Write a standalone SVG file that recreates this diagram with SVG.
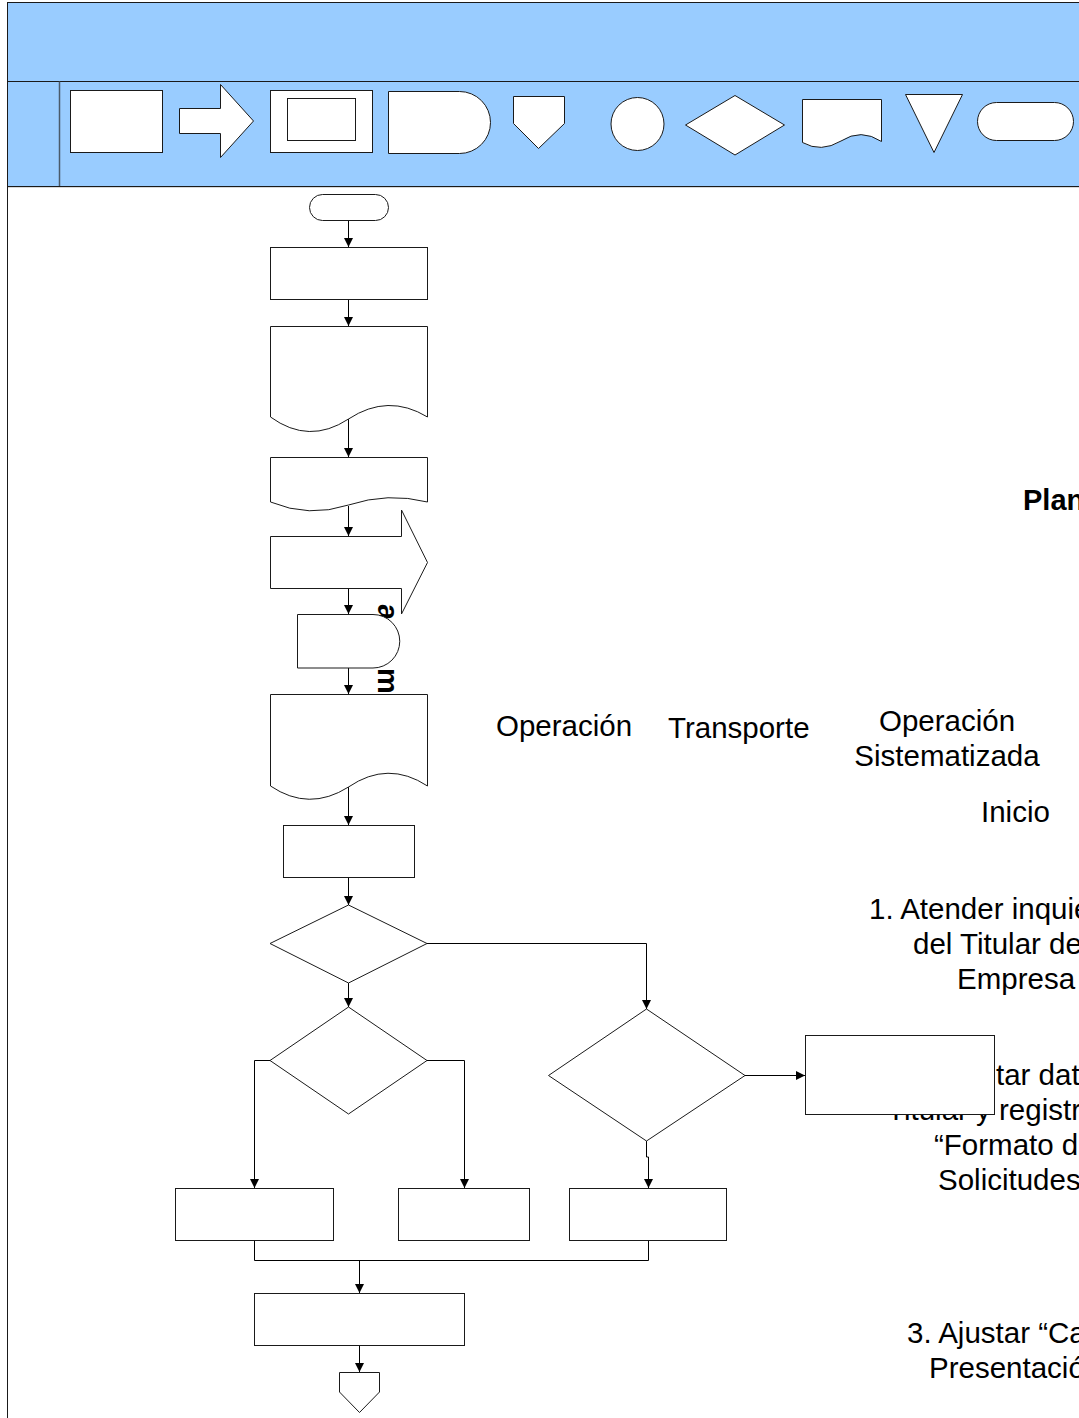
<svg xmlns="http://www.w3.org/2000/svg" width="1079" height="1418" viewBox="0 0 1079 1418">
  <style>
    .shape { fill: #ffffff; stroke: #1a1a1a; stroke-width: 1; }
    .band { fill: #99ccff; }
    .rule { stroke: #1a1a1a; stroke-width: 1; fill: none; }
    .conn { stroke: #000000; stroke-width: 1; fill: none; }
    .lbl { font-family: "Liberation Sans", Arial, sans-serif; font-size: 29.5px; fill: #000000; }
    .ttl { font-family: "Liberation Sans", Arial, sans-serif; font-size: 29px; font-weight: bold; fill: #000000; }
  </style>
  <defs>
    <marker id="arrow" markerUnits="userSpaceOnUse" markerWidth="10" markerHeight="10" refX="9" refY="4.5" orient="auto">
      <path d="M0,0 L9,4.5 L0,9 Z" fill="#000000"/>
    </marker>
  </defs>

  <rect width="1079" height="1418" fill="#ffffff"/>

  <!-- header band with symbol legend -->
  <g id="header">
    <rect class="band" x="7" y="2" width="1072" height="184"/>
    <path class="rule" d="M7.5,2.5 H1079 M7.5,81.5 H1079 M7.5,186.5 H1079"/>
    <path d="M7.5,187.5 H1079" stroke="#d8d8d8" stroke-width="1"/>
    <path d="M59.5,81.5 V186" stroke="#4a5a6a" stroke-width="1.5"/>
  </g>
  <path id="frame" class="rule" d="M7.5,2 V1418"/>

  <g id="legend">
    <g id="legend-operation"><rect class="shape" x="70.5" y="90.5" width="92" height="62"/></g>
    <g id="legend-transport"><path class="shape" d="M179.5,108.5 H220.5 V84.5 L253.5,121 L220.5,157.5 V133.5 H179.5 Z"/></g>
    <g id="legend-systematized">
      <rect class="shape" x="270.5" y="90.5" width="102" height="62"/>
      <rect class="shape" x="287.5" y="98.5" width="68" height="42"/>
    </g>
    <g id="legend-delay"><path class="shape" d="M388.5,91.5 H459.5 A31,31 0 0 1 459.5,153.5 H388.5 Z"/></g>
    <g id="legend-offpage"><path class="shape" d="M513.5,96.5 H564.5 V123.5 L538.5,148.5 L513.5,123.5 Z"/></g>
    <g id="legend-connector"><circle class="shape" cx="637.5" cy="124" r="26.5"/></g>
    <g id="legend-decision"><path class="shape" d="M735,95.5 L784.5,125 L735,155 L685.5,125 Z"/></g>
    <g id="legend-document"><path class="shape" d="M802.5,99.5 H881.5 V141.5 Q861,128 841,141 Q821,153 802.5,142.5 Z"/></g>
    <g id="legend-archive"><path class="shape" d="M905.5,94.5 H962.5 L934,152.5 Z"/></g>
    <g id="legend-terminal"><rect class="shape" x="977.5" y="102.5" width="96" height="38" rx="19" ry="19"/></g>
  </g>

  <!-- legend captions and step descriptions -->
  <g id="texts">
    <text class="ttl" x="1023" y="510">Plan</text>
    <text class="lbl" x="496" y="736">Operación</text>
    <text class="lbl" x="668" y="738">Transporte</text>
    <text class="lbl" x="947" y="731" text-anchor="middle">Operación</text>
    <text class="lbl" x="947" y="766" text-anchor="middle">Sistematizada</text>
    <text class="lbl" x="981" y="822">Inicio</text>
    <text class="lbl" x="869" y="919">1. Atender inquie</text>
    <text class="lbl" x="913" y="954">del Titular de</text>
    <text class="lbl" x="957" y="989">Empresa</text>
    <text class="lbl" x="996" y="1085">tar dat</text>
    <text class="lbl" x="887" y="1120">Titular y registr</text>
    <text class="lbl" x="934" y="1155">“Formato d</text>
    <text class="lbl" x="938" y="1190">Solicitudes</text>
    <text class="lbl" x="907" y="1343">3. Ajustar “Ca</text>
    <text class="lbl" x="929" y="1378">Presentació</text>
    <!-- vertical lane caption, mostly hidden behind the flow shapes -->
    <text class="ttl" transform="translate(378,0) rotate(90)"><tspan x="604" y="0">a</tspan><tspan x="668" y="0">m</tspan></text>
  </g>

  <!-- connectors -->
  <g id="connectors">
    <path class="conn" d="M348.5,221 V247" marker-end="url(#arrow)"/>
    <path class="conn" d="M348.5,299 V326" marker-end="url(#arrow)"/>
    <path class="conn" d="M348.5,419 V457" marker-end="url(#arrow)"/>
    <path class="conn" d="M348.5,506 V536" marker-end="url(#arrow)"/>
    <path class="conn" d="M348.5,588 V614" marker-end="url(#arrow)"/>
    <path class="conn" d="M348.5,668 V694" marker-end="url(#arrow)"/>
    <path class="conn" d="M348.5,787 V825" marker-end="url(#arrow)"/>
    <path class="conn" d="M348.5,878 V905" marker-end="url(#arrow)"/>
    <path class="conn" d="M348.5,983 V1007" marker-end="url(#arrow)"/>
    <path class="conn" d="M427,943.5 H646.5 V1009" marker-end="url(#arrow)"/>
    <path class="conn" d="M270,1060.5 H254.5 V1188" marker-end="url(#arrow)"/>
    <path class="conn" d="M427,1060.5 H464.5 V1188" marker-end="url(#arrow)"/>
    <path class="conn" d="M646.5,1141 V1157 H648.5 V1188" marker-end="url(#arrow)"/>
    <path class="conn" d="M745,1075.5 H805" marker-end="url(#arrow)"/>
    <path class="conn" d="M254.5,1240 V1260.5 H648.5 V1240"/>
    <path class="conn" d="M359.5,1260.5 V1293" marker-end="url(#arrow)"/>
    <path class="conn" d="M359.5,1346 V1372" marker-end="url(#arrow)"/>
  </g>

  <!-- flow nodes -->
  <g id="start"><rect class="shape" x="309.5" y="194.5" width="79" height="26" rx="13" ry="13"/></g>
  <g id="step-1"><rect class="shape" x="270.5" y="247.5" width="157" height="52"/></g>
  <g id="doc-1"><path class="shape" d="M270.5,326.5 H427.5 V417 Q388,393 348.5,419 Q309,445 270.5,417 Z"/></g>
  <g id="doc-2"><path class="shape" d="M270.5,457.5 H427.5 V502 Q388,492 348.5,505 Q309,518 270.5,502 Z"/></g>
  <g id="transport"><path class="shape" d="M270.5,536.5 H401.5 V510 L427.5,562.5 L401.5,614 V588.5 H270.5 Z"/></g>
  <g id="delay"><path class="shape" d="M297.5,614.5 H373 A26.75,26.75 0 0 1 373,668 H297.5 Z"/></g>
  <g id="doc-3"><path class="shape" d="M270.5,694.5 H427.5 V786 Q388,760 348.5,787 Q309,812 270.5,786 Z"/></g>
  <g id="step-2"><rect class="shape" x="283.5" y="825.5" width="131" height="52"/></g>
  <g id="decision-1"><path class="shape" d="M348.5,905 L427,943.5 L348.5,983 L270,943.5 Z"/></g>
  <g id="decision-2"><path class="shape" d="M348.5,1007 L427,1060.5 L348.5,1114 L270,1060.5 Z"/></g>
  <g id="decision-3"><path class="shape" d="M646.5,1009 L745,1075.5 L646.5,1141 L548.5,1075.5 Z"/></g>
  <g id="step-side"><rect class="shape" x="805.5" y="1035.5" width="189" height="79"/></g>
  <g id="step-a"><rect class="shape" x="175.5" y="1188.5" width="158" height="52"/></g>
  <g id="step-b"><rect class="shape" x="398.5" y="1188.5" width="131" height="52"/></g>
  <g id="step-c"><rect class="shape" x="569.5" y="1188.5" width="157" height="52"/></g>
  <g id="step-3"><rect class="shape" x="254.5" y="1293.5" width="210" height="52"/></g>
  <g id="offpage"><path class="shape" d="M339.5,1372.5 H379.5 V1392 L359.5,1412.5 L339.5,1392 Z"/></g>
</svg>
